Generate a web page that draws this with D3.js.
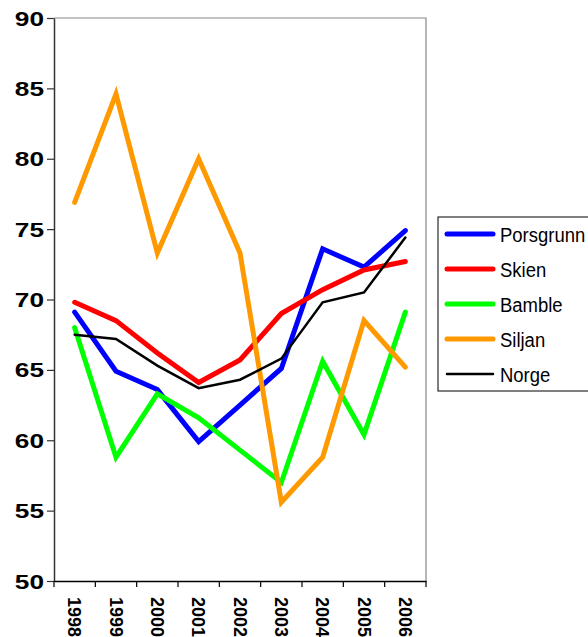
<!DOCTYPE html>
<html>
<head>
<meta charset="utf-8">
<script src="https://cdn.jsdelivr.net/npm/d3@7"></script>
<style>
  html, body { margin: 0; padding: 0; background: #fff; }
  svg { display: block; font-family: "Liberation Sans", Arial, sans-serif; }
</style>
</head>
<body>
<svg id="chart" width="588" height="637"></svg>
<script>
// Years on the category axis
const years = ["1998", "1999", "2000", "2001", "2002", "2003", "2004", "2005", "2006"];

// One value per year for each municipality
const porsgrunn = [69.1, 64.9, 63.6, 59.9, 62.5, 65.1, 73.6, 72.3, 74.9];
const skien     = [69.8, 68.5, 66.2, 64.1, 65.7, 69.0, 70.7, 72.1, 72.7];
const bamble    = [68.0, 58.8, 63.3, 61.6, 59.3, 57.0, 65.6, 60.4, 69.1];
const siljan    = [76.9, 84.6, 73.3, 80.0, 73.3, 55.6, 58.8, 68.5, 65.2];
const norge     = [67.5, 67.2, 65.3, 63.7, 64.3, 65.8, 69.8, 70.5, 74.4];

const seriesNames  = ["Porsgrunn", "Skien", "Bamble", "Siljan", "Norge"];
const seriesValues = [porsgrunn, skien, bamble, siljan, norge];
const seriesColors = ["#0000ff", "#ff0000", "#00ff00", "#ff9900", "#000000"];
const seriesWidths = [5, 5, 5, 5, 2.5];

const yTicks = [50, 55, 60, 65, 70, 75, 80, 85, 90];

const svg = d3.select("#chart");
const plot = { left: 54, right: 426, top: 18, bottom: 581 };

const x = d3.scaleBand().domain(years).range([plot.left, plot.right]).padding(0);
const y = d3.scaleLinear().domain([50, 90]).range([plot.bottom, plot.top]);
const cx = d => x(d) + x.bandwidth() / 2;

// Plot frame: grey top and right edges
svg.append("path")
  .attr("d", `M${plot.left},${plot.top}H${plot.right}V${plot.bottom}`)
  .attr("fill", "none").attr("stroke", "#888").attr("stroke-width", 1.2);

// Y axis (labels drawn separately so they can be widened)
const yAxis = svg.append("g")
  .attr("transform", `translate(${plot.left},0)`)
  .call(d3.axisLeft(y).tickValues(yTicks).tickSize(7).tickSizeOuter(0).tickFormat(""));
yAxis.select(".domain").attr("stroke", "#333").attr("stroke-width", 1.5);
yAxis.selectAll(".tick line").attr("stroke", "#333").attr("stroke-width", 1.2);

svg.append("g").selectAll("text").data(yTicks).join("text")
  .attr("transform", d => `translate(44,${y(d)}) scale(1.25,1)`)
  .attr("dy", "0.36em")
  .attr("text-anchor", "end")
  .attr("font-size", 21).attr("font-weight", "bold").attr("fill", "#000")
  .text(d => d);

// X axis: baseline, ticks at category boundaries, vertical year labels
const xAxis = svg.append("g")
  .attr("transform", `translate(0,${plot.bottom})`)
  .call(d3.axisBottom(x).tickSize(0).tickSizeOuter(0).tickFormat(""));
xAxis.select(".domain").attr("stroke", "#000").attr("stroke-width", 1.5);

const bounds = years.map(d => x(d)).concat([x(years[years.length - 1]) + x.bandwidth()]);
svg.append("g").selectAll("line").data(bounds).join("line")
  .attr("x1", d => d).attr("x2", d => d)
  .attr("y1", plot.bottom).attr("y2", plot.bottom + 6)
  .attr("stroke", "#000").attr("stroke-width", 1.2);

svg.append("g").selectAll("text").data(years).join("text")
  .attr("transform", d => `translate(${cx(d)},${plot.bottom + 16}) rotate(90)`)
  .attr("dy", "0.35em")
  .attr("text-anchor", "start")
  .attr("font-size", 18).attr("font-weight", "bold").attr("fill", "#000")
  .text(d => d);

// Series lines
const line = d3.line().x((v, i) => cx(years[i])).y(v => y(v));
svg.append("g").selectAll("path").data(seriesValues).join("path")
  .attr("d", d => line(d))
  .attr("fill", "none")
  .attr("stroke", (d, i) => seriesColors[i])
  .attr("stroke-width", (d, i) => seriesWidths[i])
  .attr("stroke-linejoin", "miter")
  .attr("stroke-linecap", "round");

// Legend
const legend = svg.append("g");
legend.append("rect")
  .attr("x", 438).attr("y", 217).attr("width", 154).attr("height", 174)
  .attr("fill", "#fff").attr("stroke", "#000").attr("stroke-width", 1);
const rowY = i => 234 + i * 35;
const items = legend.selectAll("g.item").data(seriesNames).join("g").attr("class", "item");
items.append("line")
  .attr("x1", 447).attr("x2", 493)
  .attr("y1", (d, i) => rowY(i)).attr("y2", (d, i) => rowY(i))
  .attr("stroke", (d, i) => seriesColors[i])
  .attr("stroke-width", (d, i) => seriesWidths[i])
  .attr("stroke-linecap", "round");
items.append("text")
  .attr("transform", (d, i) => `translate(500,${rowY(i)}) scale(0.88,1)`)
  .attr("dy", "0.36em")
  .attr("font-size", 21).attr("fill", "#000")
  .text(d => d);
</script>
</body>
</html>
